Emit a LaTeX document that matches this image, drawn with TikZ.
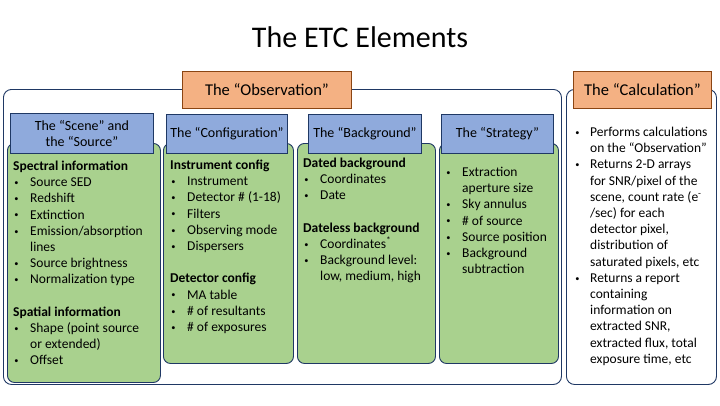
\documentclass[tikz,border=0pt]{standalone}
\usepackage{fontspec}
\setmainfont{Carlito}
\definecolor{navy}{HTML}{1F3864}
\definecolor{boxgreen}{HTML}{A9D18E}
\definecolor{boxblue}{HTML}{8FAADC}
\definecolor{boxorange}{HTML}{F4B183}
\definecolor{orangeline}{HTML}{8B4513}
\newlength\bulw
\setlength\bulw{17pt}
\newcommand\bitem[1]{\makebox[\bulw][l]{\hspace{1.2pt}\raisebox{1.3pt}{\scalebox{0.62}{\textbullet}}}#1}
\newcommand\bcont{\hspace*{\bulw}}
\begin{document}
\begin{tikzpicture}[x=1pt,y=-1pt,
  outerbox/.style={draw=navy,line width=0.9pt,rounded corners=8pt,anchor=north west,inner sep=0pt,fill=white},
  greenbox/.style={draw=navy,line width=0.9pt,fill=boxgreen,rounded corners=7pt,anchor=north west,inner sep=0pt},
  bluebox/.style={draw=navy,line width=0.9pt,fill=boxblue,anchor=north west,inner sep=0pt,align=center,font=\fontsize{14}{16}\selectfont},
  orangebox/.style={draw=orangeline,line width=0.9pt,fill=boxorange,anchor=north west,inner sep=0pt,font=\fontsize{16.5}{19}\selectfont},
  body/.style={anchor=base west,inner sep=0pt,font=\fontsize{13.5}{16.2}\selectfont}]
\useasboundingbox (0,0) rectangle (720,405);
% title
\node[anchor=base,inner sep=0pt,font=\fontsize{30}{36}\selectfont] (title) at (360,47) {The ETC Elements};
% outer boxes and labels
\node[outerbox,minimum width=558pt,minimum height=295pt] (obs) at (3,89) {};
\node[orangebox,minimum width=169pt,minimum height=37pt] (obslabel) at (182,71) {The “Observation”};
\node[outerbox,minimum width=150pt,minimum height=295pt] (calc) at (566,89) {};
\node[orangebox,minimum width=138pt,minimum height=37pt] (calclabel) at (573,71) {The “Calculation”};
% green boxes
\node[greenbox,minimum width=153pt,minimum height=239pt] (sceneg) at (7,143) {};
\node[greenbox,minimum width=130pt,minimum height=220pt] (configg) at (163,143) {};
\node[greenbox,minimum width=138pt,minimum height=220pt] (backg) at (297,143) {};
\node[greenbox,minimum width=119pt,minimum height=220pt] (stratg) at (439,143) {};
% blue headers
\node[bluebox,minimum width=143pt,minimum height=40pt] (sceneb) at (10,113) {The “Scene” and\\the “Source”};
\node[bluebox,minimum width=121pt,minimum height=39pt] (configb) at (166,114) {The “Configuration”};
\node[bluebox,minimum width=113pt,minimum height=39pt] (backb) at (308,114) {The “Background”};
\node[bluebox,minimum width=112pt,minimum height=39pt] (stratb) at (441,114) {The “Strategy”};
% texts
\node[body] (scenet) at (13,170.5) {\parbox[t]{150pt}{\textbf{Spectral information}\\
\bitem{Source SED}\\
\bitem{Redshift}\\
\bitem{Extinction}\\
\bitem{Emission/absorption}\\
\bcont lines\\
\bitem{Source brightness}\\
\bitem{Normalization type}\\[16.2pt]
\textbf{Spatial information}\\
\bitem{Shape (point source}\\
\bcont or extended)\\
\bitem{Offset}}};
\node[body] (configt) at (170,169.5) {\parbox[t]{130pt}{\textbf{Instrument config}\\
\bitem{Instrument}\\
\bitem{Detector \# (1-18)}\\
\bitem{Filters}\\
\bitem{Observing mode}\\
\bitem{Dispersers}\\[16.2pt]
\textbf{Detector config}\\
\bitem{MA table}\\
\bitem{\# of resultants}\\
\bitem{\# of exposures}}};
\node[body] (backt) at (303,167.5) {\parbox[t]{140pt}{\textbf{Dated background}\\
\bitem{Coordinates}\\
\bitem{Date}\\[16.2pt]
\textbf{Dateless background}\\
\bitem{Coordinates\textsuperscript{*}}\\
\bitem{Background level:}\\
\bcont low, medium, high}};
\node[body] (stratt) at (445,176.5) {\parbox[t]{120pt}{\bitem{Extraction}\\
\bcont aperture size\\
\bitem{Sky annulus}\\
\bitem{\# of source}\\
\bitem{Source position}\\
\bitem{Background}\\
\bcont subtraction}};
\node[body] (calct) at (574,136.5) {\parbox[t]{150pt}{\setlength\bulw{16pt}\bitem{Performs calculations}\\
\bcont on the “Observation”\\
\bitem{Returns 2-D arrays}\\
\bcont for SNR/pixel of the\\
\bcont scene, count rate (e\textsuperscript{-}\\
\bcont /sec) for each\\
\bcont detector pixel,\\
\bcont distribution of\\
\bcont saturated pixels, etc\\
\bitem{Returns a report}\\
\bcont containing\\
\bcont information on\\
\bcont extracted SNR,\\
\bcont extracted flux, total\\
\bcont exposure time, etc}};
\end{tikzpicture}
\end{document}
